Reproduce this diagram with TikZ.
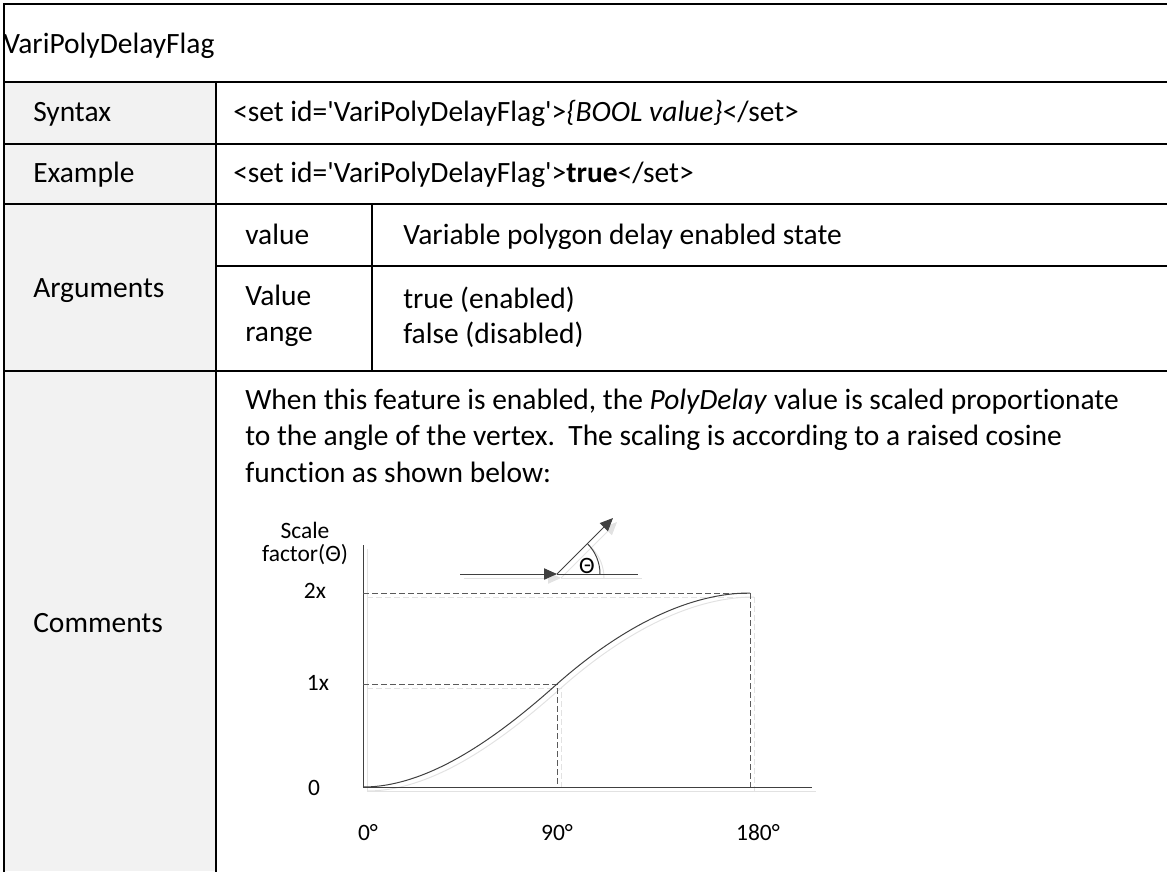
\documentclass[tikz,border=0pt]{standalone}
\usepackage{fontspec}
\setmainfont{Carlito}[Ligatures={TeXOff,CommonOff}]
\usetikzlibrary{arrows.meta}

\definecolor{cellgray}{HTML}{F2F2F2}
\definecolor{ink}{HTML}{404040}
\definecolor{dashink}{HTML}{5A5A5A}
\definecolor{shadowgray}{HTML}{E2E2E2}

\tikzset{
  tablerule/.style={line width=1.5pt, black, line cap=rect},
  txt/.style={inner sep=0pt, anchor=base west, font=\fontsize{22.1}{27}\selectfont},
  lbl/.style={inner sep=0pt, anchor=center, font=\fontsize{17.6}{21}\selectfont},
  hair/.style={line width=0.75pt},
  dashline/.style={line width=0.75pt, dash pattern=on 4.5pt off 2.25pt},
  arrowtip/.style={-{Triangle[length=9.75pt,width=8.5pt]}}
}

% curve chart: #1 colour of solid strokes, #2 colour of dashed guides
\newcommand\chartstrokes[2]{%
  \draw[#1, hair] (363,545) -- (363,787) -- (812,787);
  \draw[#2, dashline] (363,593) -- (750,593) -- (750,787);
  \draw[#2, dashline] (363,684) -- (557,684) -- (557,787);
  \draw[#1, hair] (363,787) .. controls (430,787) and (500,735) .. (557,684)
                            .. controls (610,637) and (680,593) .. (750,593);
  \draw[#1, hair, arrowtip] (460,574) -- (557,574);
  \draw[#1, hair] (557,574) -- (638,574);
  \draw[#1, hair, arrowtip] (557,574) -- (613,518);
  \draw[#1, hair] (600,574) arc[start angle=0, end angle=-45, radius=43];
}

\begin{document}
\begin{tikzpicture}[x=0.75pt, y=-0.75pt]
\useasboundingbox (0,0) rectangle (1167,871);

% shaded header column
\fill[cellgray] (4,82) rectangle (216,871);

% table rules
\draw[tablerule] (4,871) -- (4,4) -- (1170,4);
\draw[tablerule] (4,82) -- (1170,82);
\draw[tablerule] (4,144) -- (1170,144);
\draw[tablerule] (4,204) -- (1170,204);
\draw[tablerule] (216,266) -- (1170,266);
\draw[tablerule] (4,371) -- (1170,371);
\draw[tablerule] (216,82) -- (216,871);
\draw[tablerule] (372,204) -- (372,371);

% title and row headers
\node[txt] (title) at (3,53) {VariPolyDelayFlag};
\node[txt] (hsyntax) at (33,121) {Syntax};
\node[txt] (hexample) at (33,182) {Example};
\node[txt] (hargs) at (33,297) {Arguments};
\node[txt] (hcomments) at (33,632) {Comments};

% row contents
\node[txt] (syntax) at (233,121) {<set id='VariPolyDelayFlag'>\textit{\{BOOL value\}}</set>};
\node[txt] (example) at (233,182) {<set id='VariPolyDelayFlag'>\textbf{true}</set>};
\node[txt] (argname) at (245,244) {value};
\node[txt] (argdesc) at (403,244) {Variable polygon delay enabled state};
\node[txt] (rangename1) at (245,305) {Value};
\node[txt] (rangename2) at (245,341) {range};
\node[txt] (rangeval1) at (403,308) {true (enabled)};
\node[txt] (rangeval2) at (403,343) {false (disabled)};

\node[txt] (com1) at (245,409) {When this feature is enabled, the \textit{PolyDelay} value is scaled proportionate};
\node[txt] (com2) at (245,445.5) {to the angle of the vertex.\ \ The scaling is according to a raised cosine};
\node[txt] (com3) at (245,482) {function as shown below:};

% chart: soft shadow first, then the strokes themselves
\begin{scope}[shift={(4,4)}]
  \chartstrokes{shadowgray}{shadowgray}
\end{scope}
\chartstrokes{ink}{dashink}

% chart labels
\node[lbl] (yname1) at (305,530) {Scale};
\node[lbl] (yname2) at (305,555) {factor(Θ)};
\node[lbl] (angle) at (587,566) {Θ};
\node[lbl] (ytwo) at (315,591) {2x};
\node[lbl] (yone) at (318,683) {1x};
\node[lbl] (yzero) at (314,788) {0};
\node[lbl] (xzero) at (368,833) {0°};
\node[lbl] (xninety) at (557,833) {90°};
\node[lbl] (xoneeighty) at (758,833) {180°};
\end{tikzpicture}
\end{document}
